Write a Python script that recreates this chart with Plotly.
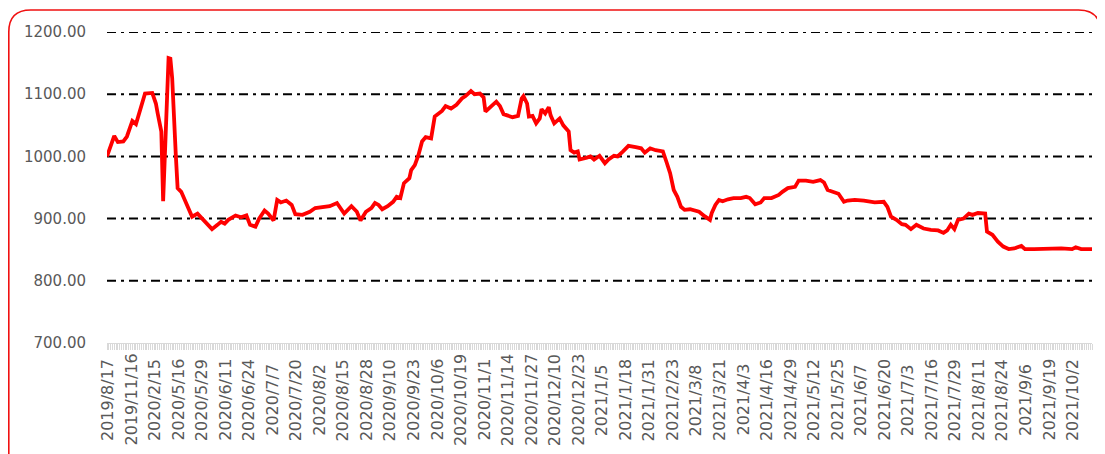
import plotly.graph_objects as go

# ---- data ----
tick_labels = [
    "2019/8/17", "2019/11/16", "2020/2/15", "2020/5/16", "2020/5/29", "2020/6/11",
    "2020/6/24", "2020/7/7", "2020/7/20", "2020/8/2", "2020/8/15", "2020/8/28",
    "2020/9/10", "2020/9/23", "2020/10/6", "2020/10/19", "2020/11/1", "2020/11/14",
    "2020/11/27", "2020/12/10", "2020/12/23", "2021/1/5", "2021/1/18", "2021/1/31",
    "2021/2/23", "2021/3/8", "2021/3/21", "2021/4/3", "2021/4/16", "2021/4/29",
    "2021/5/12", "2021/5/25", "2021/6/7", "2021/6/20", "2021/7/3", "2021/7/16",
    "2021/7/29", "2021/8/11", "2021/8/24", "2021/9/6", "2021/9/19", "2021/10/2",
]
label_step = 13          # one date label every 13 categories
n_categories = 545       # total number of category points

# position (category index) and value of each traced point
point_index = [
    0, 2, 4, 6, 9, 11, 14, 16, 19, 21, 25, 27, 28, 30, 31, 34, 35, 36, 38, 39,
    41, 44, 47, 50, 53, 55, 58, 61, 63, 65, 67, 71, 74, 77, 79, 82, 84, 87, 89, 92,
    94, 96, 99, 102, 104, 108, 112, 115, 119, 123, 127, 131, 135, 138, 140, 143, 146, 148, 150, 152,
    155, 158, 160, 162, 164, 167, 168, 170, 172, 174, 176, 179, 181, 183, 185, 187, 190, 193, 196, 198,
    201, 203, 206, 208, 209, 212, 215, 217, 219, 221, 224, 227, 229, 230, 232, 233, 235, 237, 239, 240,
    242, 244, 245, 247, 250, 252, 255, 256, 258, 260, 261, 265, 267, 269, 272, 275, 277, 280, 282, 285,
    288, 292, 295, 297, 300, 303, 307, 309, 311, 313, 315, 317, 319, 322, 325, 327, 330, 333, 334, 336,
    338, 340, 343, 346, 350, 353, 355, 358, 361, 363, 367, 371, 373, 376, 380, 382, 386, 390, 394, 396,
    398, 401, 404, 407, 409, 413, 418, 424, 429, 431, 433, 436, 439, 441, 444, 447, 451, 455, 459, 462,
    464, 466, 468, 470, 473, 476, 478, 481, 485, 486, 489, 492, 495, 498, 501, 505, 507, 512, 520, 527,
    533, 535, 538, 542, 544,
]
point_value = [
    1000, 1018, 1033, 1023, 1024, 1032, 1057, 1052, 1083, 1101, 1102, 1085, 1069, 1040, 928, 1158, 1157, 1126, 1002, 949,
    943, 922, 903, 908, 898, 892, 883, 890, 895, 892, 898, 905, 902, 905, 890, 887, 900, 913, 908, 897,
    930, 926, 929, 922, 907, 906, 911, 917, 919, 920, 925, 908, 920, 911, 897, 911, 917, 925, 922, 915,
    920, 927, 935, 933, 957, 965, 978, 986, 1002, 1024, 1031, 1029, 1064, 1069, 1073, 1081, 1077, 1083, 1093, 1097,
    1105, 1100, 1101, 1095, 1072, 1080, 1088, 1081, 1068, 1066, 1063, 1065, 1093, 1097, 1085, 1064, 1065, 1053, 1061, 1076,
    1069, 1079, 1066, 1053, 1061, 1050, 1040, 1010, 1006, 1008, 995, 998, 1000, 995, 1001, 989, 995, 1001, 1000, 1008,
    1017, 1015, 1013, 1006, 1013, 1010, 1008, 991, 973, 946, 935, 919, 914, 915, 913, 911, 904, 898, 909, 922,
    930, 928, 931, 933, 933, 935, 933, 923, 926, 933, 933, 938, 943, 949, 951, 961, 961, 959, 962, 958,
    946, 943, 940, 927, 929, 930, 929, 926, 927, 919, 903, 898, 891, 890, 883, 890, 884, 882, 881, 877,
    881, 890, 883, 898, 900, 908, 906, 909, 908, 879, 874, 863, 855, 851, 852, 856, 851, 851, 852, 852,
    851, 854, 851, 852, 851,
]
y_ticks = [700, 800, 900, 1000, 1100, 1200]
grid_levels = [800, 900, 1000, 1100, 1200]

# ---- figure (page body adds an 8px offset, so the figure is 8px smaller) ----
W, H = 1097, 446
L, R, T, B = 99, 13, 24, 111

fig = go.Figure()
fig.add_trace(go.Scatter(
    x=point_index, y=point_value, mode="lines",
    line=dict(color="#FF0000", width=3.8),
    hoverinfo="skip",
))

x_max = n_categories - 1
tick_pos = [i * label_step for i in range(len(tick_labels))]

for v in grid_levels:
    fig.add_shape(type="line", xref="x", yref="y", x0=0, x1=x_max, y0=v, y1=v,
                  line=dict(color="black", width=2, dash="9px,5px,3px,5px"),
                  layer="below")

pw, ph = W - L - R, H - T - B
def px(x): return (x - L) / pw
def py(y): return (H - B - y) / ph

# category labels, rotated and centred (as Excel draws them)
for pos, lab in zip(tick_pos, tick_labels):
    fig.add_annotation(x=pos, xref="x", y=py(392), yref="paper",
                       text=lab, textangle=-90, showarrow=False,
                       xanchor="center", yanchor="middle",
                       font=dict(family="DejaVu Sans", size=16, color="#595959"))

# rounded red frame (pixel geometry converted to paper units)
fl, fr, ft, fb, rad = 0.8, 1092.5, 2.0, 470.0, 22.0
path = (f"M {px(fl)},{py(ft + rad)} Q {px(fl)},{py(ft)} {px(fl + rad)},{py(ft)} "
        f"L {px(fr - rad)},{py(ft)} Q {px(fr)},{py(ft)} {px(fr)},{py(ft + rad)} "
        f"L {px(fr)},{py(fb - rad)} Q {px(fr)},{py(fb)} {px(fr - rad)},{py(fb)} "
        f"L {px(fl + rad)},{py(fb)} Q {px(fl)},{py(fb)} {px(fl)},{py(fb - rad)} Z")
fig.add_shape(type="path", xref="paper", yref="paper", path=path,
              line=dict(color="#F01010", width=1.6), layer="above")

fig.update_layout(
    width=W, height=H,
    margin=dict(l=L, r=R, t=T, b=B),
    plot_bgcolor="white", paper_bgcolor="white",
    showlegend=False,
    xaxis=dict(
        range=[0, x_max],
        tickmode="array",
        tickvals=tick_pos,
        showticklabels=False,
        showgrid=False, zeroline=False,
        showline=True, linecolor="#d9d9d9", linewidth=1,
        ticks="outside", ticklen=6, tickcolor="#d9d9d9", tickwidth=1,
        minor=dict(tickmode="linear", tick0=0, dtick=1, ticks="outside",
                   ticklen=6, tickcolor="#d9d9d9", tickwidth=1, showgrid=False),
        fixedrange=True,
    ),
    yaxis=dict(
        range=[700, 1200],
        tickmode="array", tickvals=y_ticks, tickformat=".2f",
        tickfont=dict(family="DejaVu Sans", size=15, color="#595959"),
        showgrid=False, zeroline=False, showline=False,
        ticks="", ticklabelstandoff=20,
        fixedrange=True,
    ),
)

fig.write_html("out.html")
